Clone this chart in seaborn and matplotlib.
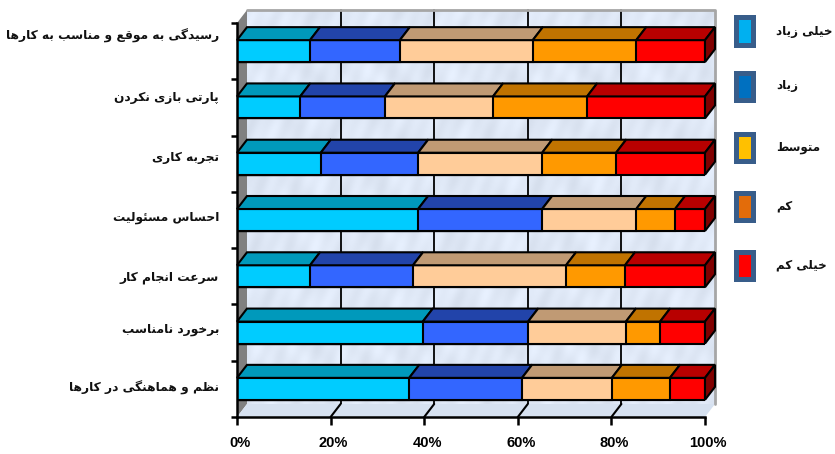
import numpy as np
import pandas as pd
import matplotlib.pyplot as plt
import matplotlib.transforms as mtrans
from matplotlib.patches import Polygon, Rectangle
import seaborn as sns

categories = ['رسیدگی به موقع و مناسب به کارها', 'پارتی بازی نکردن', 'تجربه کاری', 'احساس مسئولیت',
              'سرعت انجام کار', 'برخورد نامناسب', 'نظم و هماهنگی در کارها']
very_high = [15.6, 13.5, 17.9, 38.7, 15.6, 39.7, 36.8]
high = [19.2, 18.1, 20.8, 26.5, 22.0, 22.5, 24.1]
medium = [28.4, 23.1, 26.5, 20.1, 32.7, 20.9, 19.2]
low = [22.1, 20.1, 15.8, 8.3, 12.6, 7.3, 12.4]
very_low = [14.7, 25.2, 19.0, 6.4, 17.1, 9.6, 7.5]
legend_labels = ['خیلی زیاد', 'زیاد', 'متوسط', 'کم', 'خیلی کم']
x_ticks = [0, 20, 40, 60, 80, 100]

front_colors = ['#00ccff', '#3366ff', '#ffcc99', '#ff9900', '#ff0000']
top_colors = ['#0099bb', '#2244aa', '#c09a74', '#c07300', '#b80000']
legend_colors = ['#00b0f0', '#0070c0', '#ffc000', '#e36c0a', '#ff0000']

# layout in pixels, the chart is a fake 3d office chart
W, H = 835, 454
label_y = [36, 97, 157, 217, 277, 329, 388]
legend_y = [15, 70, 131, 190, 249]
depth_x = 10 / 468 * 100
depth_y = 13 / (394 / 7)
bar_h = 22 / (394 / 7)

# matplotlib has no arabic shaping, so pick the presentation forms by hand
# letter: isolated, final, initial, medial
forms = {
    'ا': 'ﺍﺎ', 'د': 'ﺩﺪ', 'ذ': 'ﺫﺬ', 'ر': 'ﺭﺮ', 'ز': 'ﺯﺰ', 'و': 'ﻭﻮ',
    'ب': 'ﺏﺐﺑﺒ', 'پ': 'ﭖﭗﭘﭙ', 'ت': 'ﺕﺖﺗﺘ', 'ج': 'ﺝﺞﺟﺠ', 'ح': 'ﺡﺢﺣﺤ', 'خ': 'ﺥﺦﺧﺨ',
    'س': 'ﺱﺲﺳﺴ', 'ط': 'ﻁﻂﻃﻄ', 'ظ': 'ﻅﻆﻇﻈ', 'ع': 'ﻉﻊﻋﻌ', 'ق': 'ﻕﻖﻗﻘ',
    'ک': 'ﮎﮏﮐﮑ', 'گ': 'ﮒﮓﮔﮕ', 'ل': 'ﻝﻞﻟﻠ', 'م': 'ﻡﻢﻣﻤ', 'ن': 'ﻥﻦﻧﻨ',
    'ه': 'ﻩﻪﻫﻬ', 'ی': 'ﯼﯽﯾﯿ', 'ئ': 'ﺉﺊﺋﺌ',
}


def shape(text):
    out = []
    for i, c in enumerate(text):
        if c not in forms:
            out.append(c)
            continue
        prev = text[i - 1] if i > 0 else ' '
        nxt = text[i + 1] if i < len(text) - 1 else ' '
        joins_prev = prev in forms and len(forms[prev]) == 4
        joins_next = nxt in forms and len(forms[c]) == 4
        idx = {(False, False): 0, (True, False): 1, (False, True): 2, (True, True): 3}[(joins_prev, joins_next)]
        out.append(forms[c][idx])
    return ''.join(out)[::-1]


sns.set_theme(style='white')
plt.rcParams['font.family'] = ['DejaVu Sans']

fig = plt.figure(figsize=(W / 100, H / 100), dpi=100)
ax = fig.add_axes([237 / W, (H - 417) / H, 468 / W, 394 / H])
ax.patch.set_alpha(0)

series = [very_high, high, medium, low, very_low]
cum = np.cumsum(np.array(series), axis=0)
cum = cum / cum[-1] * 100
df = pd.DataFrame(cum.T, columns=['a', 'b', 'c', 'd', 'e'])
df['cat'] = categories

# longest first so the shorter ones stack on top of it
for i in range(4, -1, -1):
    sns.barplot(data=df, x=df.columns[i], y='cat', color=front_colors[i], saturation=1, width=bar_h,
                edgecolor='black', linewidth=1.5, orient='h', zorder=3, ax=ax)

# back wall with a soft mottled look
yy, xx = np.mgrid[0:80, 0:240]
tex = np.sin(xx * 0.31 + np.sin(yy * 0.23) * 3) + np.sin(yy * 0.47 + np.sin(xx * 0.13) * 2) + np.sin((xx + yy) * 0.71)
wall_tex = 0.905 + 0.012 * tex
img = np.dstack([wall_tex - 0.03, wall_tex + 0.005, wall_tex + 0.06]).clip(0, 1)
ax.imshow(img, extent=(depth_x, 100 + depth_x, 6.5 - depth_y, -0.5 - depth_y), aspect='auto', zorder=0,
          clip_on=False, interpolation='bilinear')
ax.set_xlim(0, 100)
ax.set_ylim(6.5, -0.5)

# left wall and floor
ax.add_patch(Polygon([(0, -0.5), (depth_x, -0.5 - depth_y), (depth_x, 6.5 - depth_y), (0, 6.5)],
                     fc='#808080', ec='none', zorder=1, clip_on=False))
ax.add_patch(Polygon([(0, 6.5), (depth_x, 6.5 - depth_y), (100 + depth_x, 6.5 - depth_y), (100, 6.5)],
                     fc='#d6e1f0', ec='none', zorder=1, clip_on=False))
ax.plot([depth_x, 100 + depth_x, 100 + depth_x], [-0.5 - depth_y, -0.5 - depth_y, 6.5 - depth_y],
        color='#a6a6a6', lw=2, zorder=1, clip_on=False)
for t in x_ticks[1:-1]:
    ax.plot([t + depth_x, t + depth_x], [-0.5 - depth_y, 6.5 - depth_y], color='black', lw=1.3, zorder=0.5, clip_on=False)
    ax.plot([t, t + depth_x], [6.5, 6.5 - depth_y], color='black', lw=1.5, zorder=1.5, clip_on=False)

# top and side faces of the bars
for row in range(len(categories)):
    y_top = row - bar_h / 2
    y_bot = row + bar_h / 2
    start = 0
    for i in range(5):
        end = cum[i][row]
        ax.add_patch(Polygon([(start, y_top), (end, y_top), (end + depth_x, y_top - depth_y), (start + depth_x, y_top - depth_y)],
                             fc=top_colors[i], ec='black', lw=1.5, zorder=3, clip_on=False))
        start = end
    ax.add_patch(Polygon([(100, y_top), (100 + depth_x, y_top - depth_y), (100 + depth_x, y_bot - depth_y), (100, y_bot)],
                         fc='#800000', ec='black', lw=1.5, zorder=3, clip_on=False))

for s in ['top', 'right']:
    ax.spines[s].set_visible(False)
for s in ['left', 'bottom']:
    ax.spines[s].set_color('black')
    ax.spines[s].set_linewidth(1.8)
    ax.spines[s].set_zorder(4)

ax.set_xlabel('')
ax.set_ylabel('')
ax.set_xticks(x_ticks)
ax.set_xticklabels([f'{t}%' for t in x_ticks], family=['Liberation Sans', 'DejaVu Sans'],
                   fontweight='bold', fontsize=10.5, color='black')
ax.tick_params(axis='x', length=6, width=1.8, color='black', pad=8, bottom=True)
offset = mtrans.ScaledTranslation(3 / 100, 0, fig.dpi_scale_trans)
for lab in ax.get_xticklabels():
    lab.set_transform(lab.get_transform() + offset)
ax.set_yticks(np.arange(-0.5, 7), labels=[])
ax.tick_params(axis='y', length=4, width=1.8, color='black', left=True)

for name, y in zip(categories, label_y):
    fig.text(219 / W, 1 - y / H, shape(name), ha='right', va='center', fontsize=8.8, fontweight='bold', color='#111111')

# legend, spacing in the original is uneven so it is placed by hand
for name, col, y in zip(legend_labels, legend_colors, legend_y):
    fig.add_artist(Rectangle((735.5 / W, 1 - (y + 29.5) / H), 17 / W, 27 / H, transform=fig.transFigure,
                             fc=col, ec='#385d8a', lw=3.6))
    fig.text(776 / W, 1 - (y + 16) / H, shape(name), ha='left', va='center', fontsize=8.6, fontweight='bold', color='#111111')

fig.savefig('out.png', dpi=100)
